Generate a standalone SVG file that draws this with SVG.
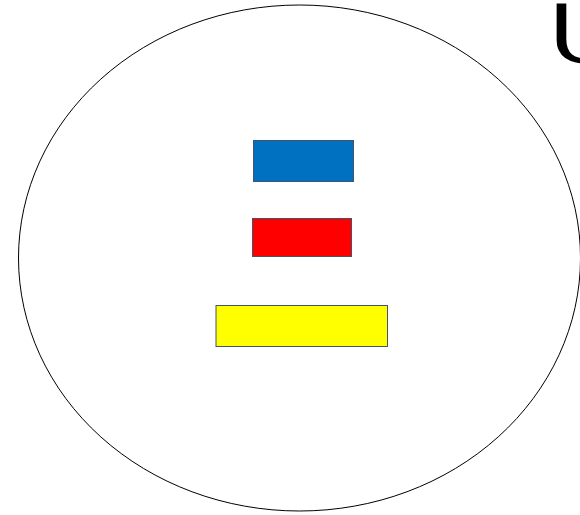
<svg xmlns="http://www.w3.org/2000/svg" width="580" height="515" viewBox="0 0 580 515">
<style>
.box{stroke:#44546a;stroke-width:1}
.lbl{font-family:"DejaVu Sans","Liberation Sans",sans-serif;font-weight:200;fill:#000;stroke:#000;stroke-width:2.2}
</style>
<rect width="580" height="515" fill="#fff"/>
<g id="universe">
<ellipse cx="299.5" cy="258" rx="281" ry="253" fill="none" stroke="#000" stroke-width="1"/>
<text class="lbl" transform="translate(553,0) scale(1.6,1)" x="-5.5" y="62" font-size="79">U</text>
</g>
<g id="blue"><rect class="box" x="253.5" y="140.5" width="100" height="41" fill="#0070c0"/></g>
<g id="red"><rect class="box" x="252.5" y="218.5" width="99" height="38" fill="#ff0000"/></g>
<g id="yellow"><rect class="box" x="216" y="305.5" width="171.5" height="41" fill="#ffff00"/></g>
<g id="connectors"></g>
</svg>
